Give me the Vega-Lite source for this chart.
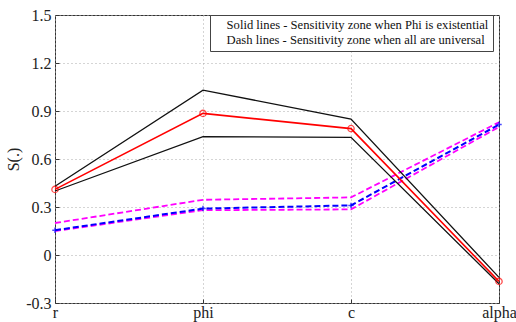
{
  "$schema": "https://vega.github.io/schema/vega-lite/v6.json",
  "width": 444,
  "height": 288,
  "autosize": {"type": "none"},
  "padding": {"left": 55, "top": 15, "right": 17, "bottom": 19},
  "background": "white",
  "config": {
    "view": {"stroke": "#333", "strokeWidth": 1},
    "font": "Times New Roman",
    "legend": {
      "labelFont": "Times New Roman",
      "labelFontSize": 12.6,
      "labelColor": "#111",
      "strokeColor": "#444",
      "fillColor": "white",
      "padding": 4,
      "rowPadding": 2,
      "symbolSize": 0,
      "symbolStrokeWidth": 0,
      "labelOffset": 0
    }
  },
  "datasets": {
    "lines": [
      {"x": "r", "y": 0.43, "s": "b1"}, {"x": "phi", "y": 1.03, "s": "b1"}, {"x": "c", "y": 0.85, "s": "b1"}, {"x": "alpha", "y": -0.14, "s": "b1"},
      {"x": "r", "y": 0.40, "s": "b2"}, {"x": "phi", "y": 0.74, "s": "b2"}, {"x": "c", "y": 0.735, "s": "b2"}, {"x": "alpha", "y": -0.18, "s": "b2"},
      {"x": "r", "y": 0.41, "s": "red"}, {"x": "phi", "y": 0.885, "s": "red"}, {"x": "c", "y": 0.79, "s": "red"}, {"x": "alpha", "y": -0.165, "s": "red"},
      {"x": "r", "y": 0.155, "s": "blue"}, {"x": "phi", "y": 0.29, "s": "blue"}, {"x": "c", "y": 0.31, "s": "blue"}, {"x": "alpha", "y": 0.815, "s": "blue"},
      {"x": "r", "y": 0.20, "s": "m1"}, {"x": "phi", "y": 0.345, "s": "m1"}, {"x": "c", "y": 0.36, "s": "m1"}, {"x": "alpha", "y": 0.83, "s": "m1"},
      {"x": "r", "y": 0.15, "s": "m2"}, {"x": "phi", "y": 0.28, "s": "m2"}, {"x": "c", "y": 0.285, "s": "m2"}, {"x": "alpha", "y": 0.80, "s": "m2"}
    ],
    "notes": [
      {"x": "phi", "y": 1.4, "note": "Solid lines - Sensitivity zone when Phi is existential"},
      {"x": "phi", "y": 1.4, "note": "Dash lines - Sensitivity zone when all are universal"}
    ]
  },
  "encoding": {
    "x": {
      "field": "x", "type": "nominal",
      "scale": {"type": "point", "domain": ["r", "phi", "c", "alpha"], "padding": 0},
      "axis": {
        "title": null, "labelAngle": 0, "labelPadding": 5,
        "labelFont": "Times New Roman", "labelFontSize": 16, "labelColor": "#222",
        "grid": true, "gridColor": "#aaa", "gridDash": [1, 3], "domain": false, "tickColor": "#333", "tickSize": -4
      }
    },
    "y": {
      "field": "y", "type": "quantitative",
      "scale": {"domain": [-0.3, 1.5], "nice": false, "zero": false},
      "axis": {
        "title": "S(.)", "values": [-0.3, 0, 0.3, 0.6, 0.9, 1.2, 1.5], "labelExpr": "'' + datum.value",
        "labelPadding": 8, "titlePadding": 4,
        "labelFont": "Times New Roman", "labelFontSize": 16, "labelColor": "#222",
        "titleFont": "Times New Roman", "titleFontSize": 16, "titleFontWeight": "normal", "titleColor": "#222",
        "grid": true, "gridColor": "#aaa", "gridDash": [1, 3], "domain": false, "tickColor": "#333", "tickSize": -4
      }
    }
  },
  "layer": [
    {
      "data": {"name": "lines"},
      "transform": [{"filter": "datum.s == 'm1' || datum.s == 'm2'"}],
      "mark": {"type": "line", "color": "#ff00ff", "strokeWidth": 1.8, "strokeDash": [6, 3]},
      "encoding": {"detail": {"field": "s"}}
    },
    {
      "data": {"name": "lines"},
      "transform": [{"filter": "datum.s == 'blue'"}],
      "mark": {"type": "line", "color": "#0000ff", "strokeWidth": 2, "strokeDash": [6, 3]},
      "encoding": {}
    },
    {
      "data": {"name": "lines"},
      "transform": [{"filter": "datum.s == 'blue'"}],
      "mark": {"type": "point", "shape": "M-1,0H1M0,-1V1", "size": 30, "color": "#0000ff", "strokeWidth": 1.5, "filled": false},
      "encoding": {}
    },
    {
      "data": {"name": "lines"},
      "transform": [{"filter": "datum.s == 'b1' || datum.s == 'b2'"}],
      "mark": {"type": "line", "color": "#111", "strokeWidth": 1.3},
      "encoding": {"detail": {"field": "s"}}
    },
    {
      "data": {"name": "lines"},
      "transform": [{"filter": "datum.s == 'red'"}],
      "mark": {"type": "line", "color": "#ff0000", "strokeWidth": 1.6},
      "encoding": {}
    },
    {
      "data": {"name": "lines"},
      "transform": [{"filter": "datum.s == 'red'"}],
      "mark": {"type": "point", "shape": "circle", "size": 40, "color": "#ff0000", "strokeWidth": 1.3, "filled": false},
      "encoding": {}
    },
    {
      "data": {"name": "notes"},
      "mark": {"type": "point", "opacity": 0},
      "encoding": {
        "shape": {
          "field": "note", "type": "nominal",
          "scale": {"domain": ["Solid lines - Sensitivity zone when Phi is existential", "Dash lines - Sensitivity zone when all are universal"]},
          "legend": {"title": null, "orient": "none", "legendX": 155, "legendY": 0, "labelLimit": 400}
        }
      }
    }
  ]
}
